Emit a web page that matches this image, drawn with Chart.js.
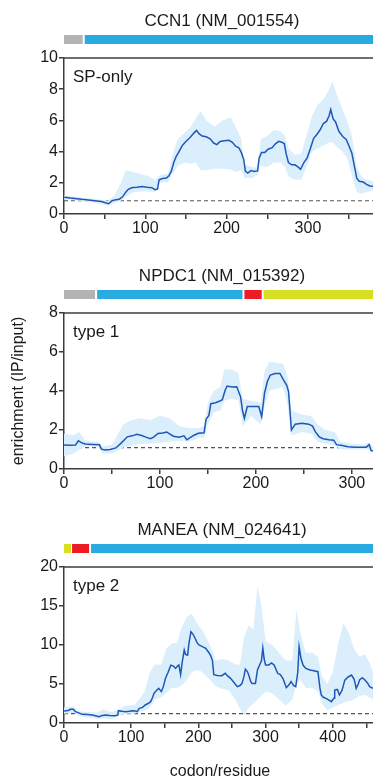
<!DOCTYPE html>
<html>
<head>
<meta charset="utf-8">
<script src="https://cdn.jsdelivr.net/npm/chart.js@4"></script>
<style>
body { margin: 0; background: #fff; }
#wrap { position: relative; width: 373px; height: 779px; overflow: hidden; }
canvas { position: absolute; left: 0; }
</style>
</head>
<body>
<div id="wrap">
  <canvas id="ccn1" width="373" height="250" style="top:0"></canvas>
  <canvas id="npdc1" width="373" height="250" style="top:255px"></canvas>
  <canvas id="manea" width="373" height="270" style="top:509px"></canvas>
</div>
<script>
// [residue, enrichment] for the mean trace
const ccn1Mean = [[0,1.07],[8,1.02],[16,0.98],[22,0.94],[30,0.9],[38,0.85],[46,0.8],[52,0.7],[55,0.66],[59,0.85],
  [64,0.92],[68,0.95],[72,1.1],[76,1.4],[79,1.58],[84,1.7],[90,1.72],[96,1.76],[102,1.72],[108,1.69],
  [112,1.56],[115,1.6],[117,2.2],[121,2.28],[126,2.3],[129,2.45],[132,2.75],[135,3.3],[138,3.7],[141,3.95],
  [145,4.35],[149,4.6],[155,4.9],[160,5.2],[163,5.36],[166,5.15],[170,5.0],[175,4.95],[180,4.8],[184,4.55],
  [188,4.45],[192,4.65],[197,4.7],[203,4.72],[207,4.6],[211,4.35],[215,4.25],[218,3.95],[221,3.5],[223,2.75],
  [226,2.62],[230,2.78],[234,2.72],[238,2.76],[240,3.6],[243,3.95],[247,3.95],[251,4.15],[256,4.25],[260,4.5],
  [264,4.66],[268,4.6],[271,4.5],[273,3.9],[276,3.3],[280,3.15],[284,3.15],[288,3.0],[291,2.86],[295,3.3],
  [299,3.6],[303,4.2],[307,4.85],[311,5.1],[315,5.4],[319,5.8],[323,5.95],[326,6.3],[328,6.7],[331,6.1],
  [334,5.9],[338,5.3],[343,4.95],[347,4.78],[351,4.3],[354,3.9],[357,3.1],[360,2.3],[363,2.1],[368,2.05],
  [372,1.9],[376,1.8],[380,1.78]];
// [residue, lower, upper] for the shaded range
const ccn1Band = [[0,0.95,1.2],[20,0.85,1.05],[40,0.7,0.95],[54,0.55,0.85],[62,0.7,1.2],[70,0.85,2.0],[76,1.1,2.8],
  [85,1.4,2.7],[95,1.45,2.55],[105,1.45,2.4],[112,1.4,2.2],[118,2.0,2.5],[128,2.05,2.6],[134,2.6,3.9],
  [140,3.1,4.8],[148,3.3,5.2],[156,3.2,5.6],[162,3.3,6.1],[168,2.8,6.6],[175,2.8,6.0],[185,2.9,5.6],
  [195,2.9,6.0],[205,2.85,6.2],[212,2.7,5.5],[218,2.8,4.8],[222,2.3,3.2],[232,2.3,3.0],[238,2.5,3.0],
  [242,3.1,4.8],[250,3.0,5.0],[258,3.3,5.4],[266,3.3,5.3],[272,3.0,5.0],[276,2.4,4.2],[284,2.2,3.8],
  [292,2.2,3.9],[298,3.0,5.0],[305,4.0,6.3],[312,4.2,7.0],[320,4.4,7.4],[326,4.6,8.0],[330,4.6,8.5],
  [336,4.3,7.6],[342,4.0,6.8],[348,3.6,6.0],[354,2.5,5.0],[360,1.4,3.0],[366,1.3,2.4],[372,1.4,2.2],[380,1.5,2.1]];
const ccn1Domains = [[0,23,'#b3b3b3'],[25.5,380,'#29abe2']];

const npdc1Mean = [[0,1.23],[6,1.22],[12,1.23],[15,1.45],[18,1.35],[22,1.28],[30,1.26],[37,1.24],[39,1.02],[43,0.97],
  [48,1.0],[54,1.08],[59,1.3],[63,1.5],[66,1.65],[71,1.7],[76,1.78],[81,1.72],[86,1.62],[90,1.55],
  [93,1.62],[98,1.82],[103,1.85],[107,1.9],[110,1.8],[114,1.68],[120,1.63],[125,1.7],[128,1.5],[131,1.6],
  [135,1.72],[140,1.83],[146,1.86],[148,2.55],[151,2.75],[153,3.35],[158,3.4],[163,3.5],[165,3.55],[168,4.05],
  [170,4.25],[175,4.2],[180,4.22],[184,3.7],[186,3.0],[188,2.6],[191,3.2],[197,3.2],[203,3.2],[206,2.68],
  [209,3.9],[212,4.5],[215,4.82],[220,4.9],[225,4.9],[229,4.55],[232,4.3],[234,3.97],[237,2.0],[241,2.3],
  [248,2.34],[255,2.3],[259,2.2],[262,1.9],[266,1.65],[270,1.55],[276,1.5],[281,1.48],[284,1.25],[290,1.2],
  [296,1.14],[303,1.12],[310,1.11],[315,1.12],[318,1.25],[320,0.95],[322,0.94]];
const npdc1Band = [[0,0.65,1.8],[10,0.8,1.75],[16,1.0,1.9],[22,1.15,1.45],[36,1.15,1.4],[40,0.8,1.15],[50,0.8,1.25],
  [56,0.95,1.8],[62,1.1,2.3],[70,1.2,2.5],[80,1.3,2.6],[90,1.3,2.5],[100,1.35,2.75],[110,1.4,2.6],
  [120,1.45,2.2],[130,1.4,2.1],[140,1.6,2.1],[146,1.6,2.2],[150,2.3,3.4],[156,2.9,4.0],[163,3.0,4.2],
  [167,3.5,5.1],[175,3.6,5.1],[182,3.5,4.9],[186,2.2,3.6],[195,2.7,3.5],[205,2.3,3.4],[209,3.2,5.0],
  [214,4.0,5.5],[228,4.2,5.4],[233,3.3,4.8],[237,1.7,3.0],[248,1.9,2.8],[258,1.8,2.7],[264,1.4,2.3],
  [272,1.3,2.0],[282,1.2,1.9],[288,1.0,1.4],[300,1.0,1.3],[312,1.0,1.25],[318,1.0,1.35],[322,0.8,1.1]];
const npdc1Domains = [[0,32.4,'#b3b3b3'],[34.5,186,'#29abe2'],[188,206,'#ed1c24'],[208,323,'#d7df23']];

const maneaMean = [[0,1.55],[6,1.6],[10,1.75],[14,1.75],[17,1.45],[22,1.3],[27,1.11],[35,1.1],[42,1.03],[48,0.9],
  [52,0.81],[57,0.95],[62,1.03],[68,0.95],[76,0.94],[80,1.0],[81,1.58],[86,1.5],[92,1.45],[97,1.5],
  [102,1.58],[106,1.55],[109,1.45],[112,1.88],[117,2.0],[121,2.31],[125,2.5],[129,2.74],[132,3.3],[134,3.8],
  [138,4.2],[141,4.44],[145,4.02],[148,4.7],[151,5.7],[155,6.5],[159,7.4],[163,7.3],[166,7.0],[169,7.3],
  [171,7.44],[173.6,6.2],[176,7.8],[179,9.36],[181,8.8],[184,8.7],[186,10.2],[189,11.7],[192,11.4],[195,10.9],
  [198,10.3],[201,10.0],[206,9.8],[211,9.57],[215,9.1],[218,8.7],[221,8.0],[223,6.2],[228,6.1],[235,6.06],
  [240,6.37],[244,6.0],[248,5.73],[253,5.2],[258,4.66],[262,4.8],[265,5.08],[268,6.0],[270,6.9],[273,6.6],
  [275,6.15],[278,5.3],[280,5.08],[285,5.08],[288,6.8],[292,7.6],[294,8.0],[296,9.6],[298,8.2],[300,7.44],
  [305,7.44],[309,7.7],[313,7.4],[318,6.37],[322,6.2],[326,5.7],[329,5.0],[331,4.53],[335,4.9],[338,5.3],
  [342,4.8],[345,4.66],[348,6.5],[350,9.8],[353,8.2],[356,7.4],[360,7.0],[366,6.8],[372,6.7],[378,6.58],
  [381,4.5],[383,3.6],[386,3.3],[390,3.16],[395,2.9],[398,2.74],[402,3.2],[403,4.23],[407,4.3],[410,3.59],
  [414,4.2],[418,5.5],[423,5.9],[428,6.15],[432,5.6],[435,4.44],[438,5.0],[440,5.51],[444,5.8],[448,5.51],
  [452,5.1],[455,4.66],[460,4.44]];
const maneaBand = [[0,1.2,2.0],[15,1.3,2.1],[22,0.9,1.5],[35,0.7,1.4],[50,0.5,1.3],[58,0.6,1.8],[70,0.5,1.4],
  [80,0.9,1.6],[90,1.2,2.2],[105,1.2,2.3],[112,1.4,3.0],[120,1.6,4.0],[128,2.0,6.5],[135,3.0,7.5],
  [145,3.3,7.5],[152,3.8,9.5],[160,4.5,10.2],[168,4.5,10.3],[175,4.8,12.2],[183,5.5,13.6],[190,6.5,14.0],
  [198,6.8,12.8],[205,6.6,12.0],[212,6.0,11.0],[220,5.3,9.5],[226,4.7,8.0],[235,4.4,8.2],[245,4.2,8.0],
  [255,3.0,7.5],[262,1.8,7.5],[268,1.0,11.0],[275,2.0,12.5],[282,2.5,12.0],[288,3.0,17.5],[294,3.5,15.0],
  [300,4.0,10.5],[310,3.8,10.0],[320,3.0,9.0],[330,2.2,8.0],[340,3.0,8.0],[346,5.0,14.5],[352,5.5,11.5],
  [360,4.5,9.0],[370,4.5,9.0],[378,4.0,8.5],[384,2.5,6.0],[392,1.6,5.0],[400,2.0,6.5],[408,2.3,10.0],
  [416,2.6,12.8],[424,2.8,11.5],[432,3.0,9.5],[440,3.5,8.5],[448,3.6,8.8],[456,3.2,7.5],[460,3.0,6.5]];
const maneaDomains = [[0,10.4,'#d7df23'],[12,37.3,'#ed1c24'],[40.3,460,'#29abe2']];

const AXIS_COLOR = '#3c3c3c';
const LINE_COLOR = '#1f57b8';
const BAND_COLOR = '#daeffb';
const FONT = '"Liberation Sans", Arial, sans-serif';

// titles, domain strip, corner label, frame top, shared axis titles
const decorPlugin = {
    id: 'decor',
    afterDraw(chart, args, opts) {
        const { ctx, chartArea, scales } = chart;
        ctx.save();
        ctx.strokeStyle = AXIS_COLOR;
        ctx.lineWidth = 1.5;
        ctx.beginPath();
        ctx.moveTo(chartArea.left, chartArea.top);
        ctx.lineTo(chartArea.right, chartArea.top);
        ctx.stroke();

        opts.domains.forEach(d => {
            const x0 = scales.x.getPixelForValue(d[0]);
            const x1 = scales.x.getPixelForValue(d[1]);
            ctx.fillStyle = d[2];
            ctx.fillRect(x0, 35, x1 - x0, 9);
        });

        ctx.fillStyle = '#1a1a1a';
        ctx.font = '17px ' + FONT;
        ctx.textBaseline = 'alphabetic';
        ctx.textAlign = 'center';
        ctx.fillText(opts.title, 222, 26);
        ctx.textAlign = 'left';
        ctx.fillText(opts.label, chartArea.left + 9, chartArea.top + 24);

        ctx.font = '16px ' + FONT;
        if (opts.yTitle) {
            ctx.save();
            ctx.translate(19, 136);
            ctx.rotate(-Math.PI / 2);
            ctx.textAlign = 'center';
            ctx.textBaseline = 'middle';
            ctx.fillText(opts.yTitle, 0, 0);
            ctx.restore();
        }
        if (opts.xTitle) {
            ctx.textAlign = 'center';
            ctx.fillText(opts.xTitle, 220, 267);
        }
        ctx.restore();
    }
};

function makePanel(id, cfg) {
    const ctx = document.getElementById(id).getContext('2d');
    return new Chart(ctx, {
        type: 'line',
        data: {
            datasets: [
                {
                    data: cfg.mean.map(p => ({ x: p[0], y: p[1] })),
                    borderColor: LINE_COLOR,
                    borderWidth: 1.5,
                    pointRadius: 0,
                    fill: false,
                    order: 0
                },
                {
                    data: cfg.band.map(p => ({ x: p[0], y: p[2] })),
                    borderColor: 'rgba(0,0,0,0)',
                    borderWidth: 0,
                    pointRadius: 0,
                    backgroundColor: BAND_COLOR,
                    fill: '+1',
                    order: 1
                },
                {
                    data: cfg.band.map(p => ({ x: p[0], y: p[1] })),
                    borderColor: 'rgba(0,0,0,0)',
                    borderWidth: 0,
                    pointRadius: 0,
                    fill: false,
                    order: 2
                },
                {
                    data: [{ x: 0, y: cfg.baseline }, { x: cfg.xMax, y: cfg.baseline }],
                    borderColor: '#555',
                    borderWidth: 1.2,
                    borderDash: [4, 3],
                    pointRadius: 0,
                    fill: false,
                    order: 3
                }
            ]
        },
        options: {
            responsive: false,
            animation: false,
            devicePixelRatio: 1,
            layout: { padding: { top: 58, left: 0, right: 0, bottom: cfg.padBottom } },
            plugins: {
                legend: { display: false },
                tooltip: { enabled: false },
                decor: {
                    title: cfg.title,
                    label: cfg.label,
                    domains: cfg.domains,
                    yTitle: cfg.yTitle,
                    xTitle: cfg.xTitle
                }
            },
            scales: {
                x: {
                    type: 'linear',
                    min: 0,
                    max: cfg.xMax,
                    // every 50 residues, labels only on hundreds
                    afterBuildTicks: s => {
                        const ticks = [];
                        for (let v = 0; v <= cfg.xMax; v += 50) ticks.push({ value: v });
                        s.ticks = ticks;
                    },
                    afterFit: s => { s.height = 30; },
                    ticks: {
                        autoSkip: false,
                        maxRotation: 0,
                        padding: 0,
                        color: '#1a1a1a',
                        font: { family: FONT, size: 16 },
                        callback: v => (v % 100 === 0 ? v : '')
                    },
                    grid: { drawOnChartArea: false, drawTicks: true, tickLength: 5, color: AXIS_COLOR, lineWidth: 1.5 },
                    border: { color: AXIS_COLOR, width: 1.5 }
                },
                y: {
                    min: 0,
                    max: cfg.yMax,
                    afterFit: s => { s.width = 64; },
                    ticks: {
                        stepSize: cfg.yStep,
                        padding: 1,
                        color: '#1a1a1a',
                        font: { family: FONT, size: 16 }
                    },
                    grid: { drawOnChartArea: false, drawTicks: true, tickLength: 5, color: AXIS_COLOR, lineWidth: 1.5 },
                    border: { color: AXIS_COLOR, width: 1.5 }
                }
            }
        },
        plugins: [decorPlugin]
    });
}

makePanel('ccn1', {
    mean: ccn1Mean, band: ccn1Band, domains: ccn1Domains,
    title: 'CCN1 (NM_001554)', label: 'SP-only',
    xMax: 380, yMax: 10, yStep: 2, baseline: 0.85, padBottom: 6
});
makePanel('npdc1', {
    mean: npdc1Mean, band: npdc1Band, domains: npdc1Domains,
    title: 'NPDC1 (NM_015392)', label: 'type 1',
    xMax: 322, yMax: 8, yStep: 2, baseline: 1.1, padBottom: 6,
    yTitle: 'enrichment (IP/input)'
});
makePanel('manea', {
    mean: maneaMean, band: maneaBand, domains: maneaDomains,
    title: 'MANEA (NM_024641)', label: 'type 2',
    xMax: 460, yMax: 20, yStep: 5, baseline: 1.2, padBottom: 26,
    xTitle: 'codon/residue'
});
</script>
</body>
</html>
